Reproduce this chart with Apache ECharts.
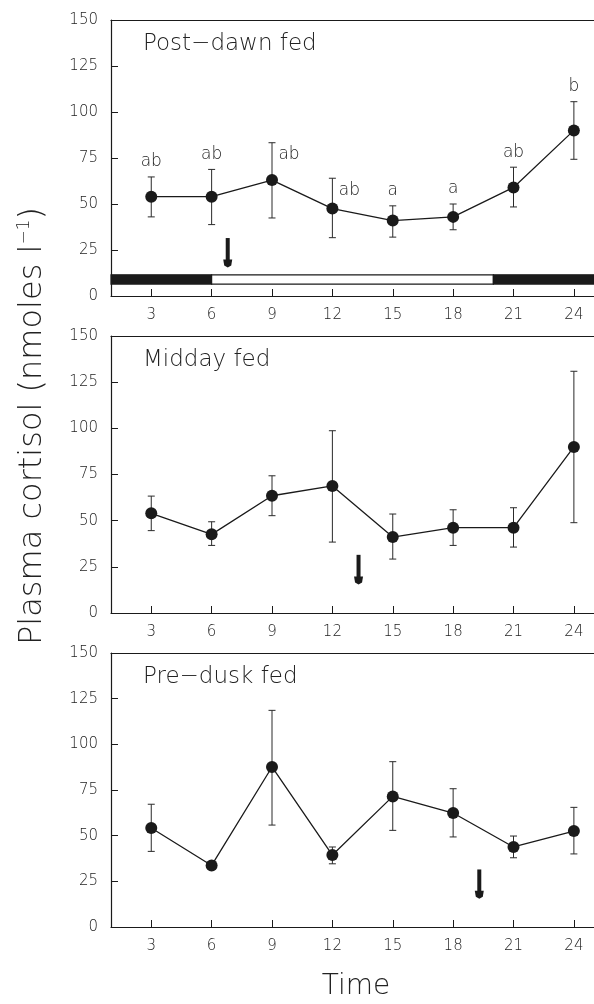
<!DOCTYPE html>
<html>
<head>
<meta charset="utf-8">
<script src="https://cdn.jsdelivr.net/npm/echarts@6/dist/echarts.min.js"></script>
<style>
  html, body { margin: 0; padding: 0; background: #fff; }
  #chart { width: 594px; height: 1004px; }
</style>
</head>
<body>
<div id="chart"></div>
<script>
// sampling times (h) and tick labels
const hours = [3, 6, 9, 12, 15, 18, 21, 24];
const xTickLabels = ['3', '6', '9', '12', '15', '18', '21', '24'];
const yTicks = [0, 25, 50, 75, 100, 125, 150];

// Post-dawn fed
const postDawnMean = [54, 54, 63, 47.5, 41, 43, 59, 90];
const postDawnUpper = [64.7, 68.8, 83.3, 64, 49, 50, 70, 105.6];
const postDawnLower = [43, 38.8, 42.4, 31.7, 32, 36, 48.4, 74.3];
const postDawnLetters = ['ab', 'ab', 'ab', 'ab', 'a', 'a', 'ab', 'b'];
const letterSide = ['top', 'top', 'right', 'right', 'top', 'top', 'top', 'top'];

// Midday fed
const middayMean = [54, 42.6, 63.5, 68.8, 41.1, 46.2, 46.2, 89.9];
const middayUpper = [63.3, 49.4, 74.3, 98.7, 53.6, 55.9, 57, 130.9];
const middayLower = [44.6, 36.6, 52.7, 38.4, 29.2, 36.6, 35.7, 48.9];

// Pre-dusk fed
const preDuskMean = [54.2, 33.7, 87.6, 39.4, 71.5, 62.4, 43.8, 52.5];
const preDuskUpper = [67.2, 35.5, 118.6, 43.8, 90.5, 75.7, 49.8, 65.5];
const preDuskLower = [41.4, 32, 55.8, 34.6, 52.9, 49.3, 37.9, 40];

// feeding time (arrow) for each panel
const feedHour = [6.8, 13.3, 19.3];
const panelTitles = ['Post\u2212dawn fed', 'Midday fed', 'Pre\u2212dusk fed'];

// light/dark bar in the first panel: [start, end, dark]
const photoStart = [1, 6, 20];
const photoEnd = [6, 20, 25];
const photoDark = [1, 0, 1];

const FONT = 'DejaVu Sans';
const INK = '#1a1a1a';
const TXT = '#222';

const chart = echarts.init(document.getElementById('chart'));

const grids = [
  { left: 111, top: 20, width: 483, height: 276 },
  { left: 111, top: 336, width: 483, height: 277 },
  { left: 111, top: 653, width: 483, height: 274 }
];

const xAxes = [];
const yAxes = [];
grids.forEach((g, i) => {
  xAxes.push({
    type: 'value', gridIndex: i, min: 1, max: 25,
    axisLine: { show: true, onZero: false, lineStyle: { color: INK, width: 1.2 } },
    axisTick: { show: true, inside: true, length: 7, customValues: hours, lineStyle: { color: INK } },
    axisLabel: { show: true, customValues: hours, margin: 12, color: TXT, fontFamily: FONT, fontWeight: 200, fontSize: 15,
      formatter: v => xTickLabels[hours.indexOf(v)] },
    splitLine: { show: false }
  });
  xAxes.push({
    type: 'value', gridIndex: i, min: 1, max: 25, position: 'top',
    axisLine: { show: true, onZero: false, lineStyle: { color: INK, width: 1.2 } },
    axisTick: { show: false }, axisLabel: { show: false }, splitLine: { show: false }
  });
  yAxes.push({
    type: 'value', gridIndex: i, min: 0, max: 150, interval: 25,
    axisLine: { show: true, onZero: false, lineStyle: { color: INK, width: 1.2 } },
    axisTick: { show: true, inside: true, length: 7, lineStyle: { color: INK } },
    axisLabel: { margin: 13, color: TXT, fontFamily: FONT, fontWeight: 200, fontSize: 15,
      customValues: yTicks },
    splitLine: { show: false }
  });
});

function errorBarItem(params, api) {
  const x = api.value(0);
  const lo = api.coord([x, api.value(1)]);
  const hi = api.coord([x, api.value(2)]);
  const w = 3.5;
  const st = { stroke: '#2a2a2a', lineWidth: 1 };
  return {
    type: 'group',
    children: [
      { type: 'line', shape: { x1: lo[0], y1: lo[1], x2: hi[0], y2: hi[1] }, style: st },
      { type: 'line', shape: { x1: lo[0] - w, y1: lo[1], x2: lo[0] + w, y2: lo[1] }, style: st },
      { type: 'line', shape: { x1: hi[0] - w, y1: hi[1], x2: hi[0] + w, y2: hi[1] }, style: st }
    ]
  };
}

function letterItem(params, api) {
  const i = params.dataIndex;
  const p = api.coord([api.value(0), api.value(1)]);
  const right = letterSide[i] === 'right';
  return {
    type: 'text',
    x: right ? p[0] + 17 : p[0],
    y: right ? p[1] + 12 : p[1] - 15,
    style: {
      text: postDawnLetters[i], fill: TXT, font: '200 17px "' + FONT + '"',
      align: 'center', verticalAlign: 'middle'
    }
  };
}

function arrowItem(params, api) {
  const top = api.coord([api.value(0), api.value(1)]);
  const bot = api.coord([api.value(0), api.value(2)]);
  const x = top[0];
  return {
    type: 'group',
    children: [
      { type: 'rect', shape: { x: x - 2, y: top[1], width: 4, height: bot[1] - top[1] - 6 }, style: { fill: INK } },
      { type: 'polygon', shape: { points: [[x - 4.5, bot[1] - 8], [x + 4.5, bot[1] - 8], [x + 3.5, bot[1] - 2], [x, bot[1]], [x - 3.5, bot[1] - 2]] }, style: { fill: INK } }
    ]
  };
}

function photoItem(params, api) {
  const a = api.coord([api.value(0), 11.5]);
  const b = api.coord([api.value(1), 6.5]);
  const dark = api.value(2) === 1;
  return {
    type: 'rect',
    shape: { x: a[0], y: a[1], width: b[0] - a[0], height: b[1] - a[1] },
    style: { fill: dark ? INK : '#fff', stroke: INK, lineWidth: 1.2 }
  };
}

const panels = [
  [postDawnMean, postDawnUpper, postDawnLower],
  [middayMean, middayUpper, middayLower],
  [preDuskMean, preDuskUpper, preDuskLower]
];

const series = [];
panels.forEach((p, i) => {
  series.push({
    type: 'custom', xAxisIndex: i * 2, yAxisIndex: i, renderItem: errorBarItem, z: 2,
    encode: { x: 0, y: [1, 2] },
    data: hours.map((h, k) => [h, p[2][k], p[1][k]])
  });
  series.push({
    type: 'line', xAxisIndex: i * 2, yAxisIndex: i, z: 3,
    symbol: 'circle', symbolSize: 12,
    itemStyle: { color: INK },
    lineStyle: { color: INK, width: 1.3 },
    data: hours.map((h, k) => [h, p[0][k]])
  });
  series.push({
    type: 'custom', xAxisIndex: i * 2, yAxisIndex: i, renderItem: arrowItem, z: 3,
    encode: { x: 0, y: [1, 2] },
    data: [[feedHour[i], 31.5, 15.5]]
  });
});

series.push({
  type: 'custom', xAxisIndex: 0, yAxisIndex: 0, renderItem: letterItem, z: 4,
  encode: { x: 0, y: 1 },
  data: hours.map((h, k) => [h, postDawnUpper[k]])
});

series.push({
  type: 'custom', xAxisIndex: 0, yAxisIndex: 0, renderItem: photoItem, z: 2,
  encode: { x: [0, 1] },
  data: photoStart.map((s, k) => [s, photoEnd[k], photoDark[k]])
});

const titleGraphics = panelTitles.map((t, i) => ({
  type: 'text', left: 143, top: grids[i].top + 13,
  style: { text: t, fill: TXT, font: '200 23px "' + FONT + '"' }
}));

chart.setOption({
  animation: false,
  backgroundColor: '#fff',
  grid: grids,
  xAxis: xAxes,
  yAxis: yAxes,
  series: series,
  graphic: titleGraphics.concat([
    {
      type: 'text', x: 33, y: 426, rotation: Math.PI / 2,
      style: {
        text: '{a|Plasma cortisol (nmoles l}{s|\u22121}{a|)}',
        align: 'center', verticalAlign: 'middle',
        rich: {
          a: { fontFamily: FONT, fontWeight: 200, fontSize: 32, fill: TXT, color: TXT },
          s: { fontFamily: FONT, fontWeight: 200, fontSize: 17, fill: TXT, color: TXT, verticalAlign: 'top', padding: [0, 0, 16, 0] }
        }
      }
    },
    {
      type: 'text', x: 356, y: 987,
      style: { text: 'Time', fill: TXT, font: '200 28px "' + FONT + '"', align: 'center', verticalAlign: 'middle' }
    }
  ])
});
</script>
</body>
</html>
